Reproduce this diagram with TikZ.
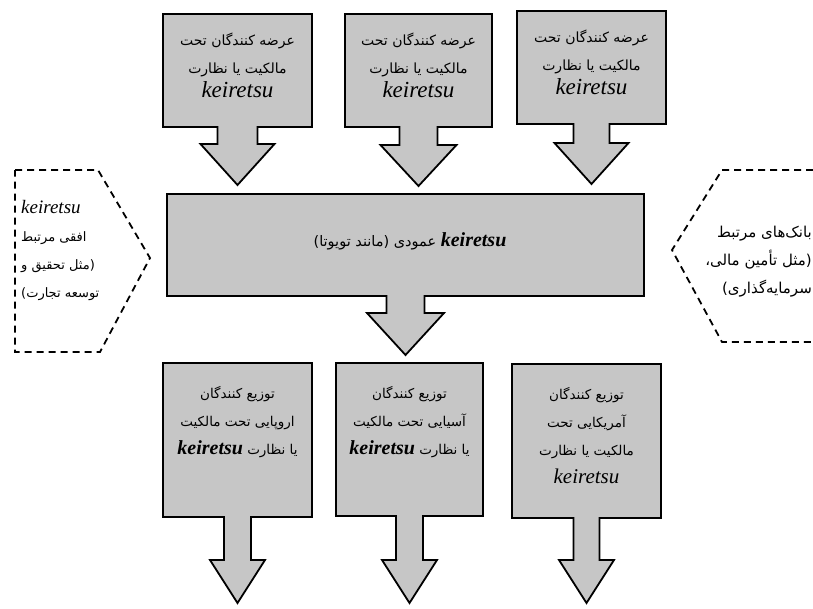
\documentclass[tikz,border=0pt]{standalone}
\usepackage{fontspec}
\setmainfont{Liberation Serif}
\newfontfamily\fa[Script=Arabic]{DejaVu Sans}
\TeXXeTstate=1

\definecolor{panelgray}{RGB}{198,198,198}

% Persian line, set right to left
\newcommand\rl[1]{{\fa\beginR #1\endR}}
% Latin term in italic / bold italic
\newcommand\keit[2]{{\rmfamily\itshape\fontsize{#1}{#1}\selectfont #2}}
\newcommand\keib[2]{{\rmfamily\bfseries\itshape\fontsize{#1}{#1}\selectfont #2}}

\tikzset{
  panel/.style={draw=none, inner sep=0pt, outer sep=0pt},
  outline/.style={draw=black, fill=panelgray, line width=1.8pt, line join=miter},
  hexline/.style={draw=black, line width=1.8pt, dash pattern=on 7pt off 5pt},
  label/.style={inner sep=0pt, align=center, font=\fontsize{#1}{28}\selectfont},
  label/.default=14,
}

% box with a block arrow hanging from its lower edge
% #1 name, #2 centre x, #3 half width, #4 top, #5 bottom,
% #6 stem half width, #7 head half width, #8 head top, #9 tip
\newcommand\dropbox[9]{%
  \node[panel, minimum width={2*#3}, minimum height={#5-#4}] (#1) at (#2,{(#4+#5)/2}) {};
  \draw[outline] (#1.north west) -- (#1.north east) -- (#1.south east)
    -- ({#2+#6},#5) -- ({#2+#6},#8) -- ({#2+#7},#8) -- (#2,#9)
    -- ({#2-#7},#8) -- ({#2-#6},#8) -- ({#2-#6},#5) -- (#1.south west) -- cycle;
}

\begin{document}
\begin{tikzpicture}[x=1pt, y=-1pt]
\useasboundingbox[fill=white] (0,0) rectangle (813,608);

% suppliers
\dropbox{sup1}{237.5}{74.5}{14}{127}{20}{37}{144}{185}
\dropbox{sup2}{418.5}{73.5}{14}{127}{19}{38}{145}{186}
\dropbox{sup3}{591.5}{74.5}{11}{124}{18}{37}{143}{184}

% vertical keiretsu
\dropbox{core}{405.5}{238.5}{194}{296}{19}{38.5}{313}{355}

% distributors
\dropbox{dis1}{237.5}{74.5}{363}{517}{13.5}{27.5}{560}{603}
\dropbox{dis2}{409.5}{73.5}{363}{516}{13.5}{27.5}{560}{603}
\dropbox{dis3}{586.5}{74.5}{364}{518}{13}{27.5}{560}{603}

% side groups
\draw[hexline] (15,170) coordinate (hl) -- (98,170) -- (150,258) coordinate (hltip)
  -- (100,352) -- (15,352) -- cycle;
\draw[hexline] (813,170) coordinate (hr) -- (722,170) -- (672,250) coordinate (hrtip)
  -- (722,342) -- (813,342);

% texts
\node[label=14] (sup1-text) at (237.5,65) {\rl{عرضه کنندگان تحت}\\ \rl{مالکیت یا نظارت}\\[-4pt] \keit{23}{keiretsu}};
\node[label=14] (sup2-text) at (418.5,65) {\rl{عرضه کنندگان تحت}\\ \rl{مالکیت یا نظارت}\\[-4pt] \keit{23}{keiretsu}};
\node[label=14] (sup3-text) at (591.5,62) {\rl{عرضه کنندگان تحت}\\ \rl{مالکیت یا نظارت}\\[-4pt] \keit{23}{keiretsu}};

\node[label=14.5] (core-text) at (410,241) {\rl{\beginL\keib{20}{keiretsu}\endL{} عمودی (مانند تویوتا)}};

\node[label=13.5] (dis1-text) at (237.5,422) {\rl{توزیع کنندگان}\\ \rl{اروپایی تحت مالکیت}\\ \rl{یا نظارت \beginL\keib{20}{keiretsu}\endL}};
\node[label=13.5] (dis2-text) at (409.5,422) {\rl{توزیع کنندگان}\\ \rl{آسیایی تحت مالکیت}\\ \rl{یا نظارت \beginL\keib{20}{keiretsu}\endL}};
\node[label=13.5] (dis3-text) at (586.5,436) {\rl{توزیع کنندگان}\\ \rl{آمریکایی تحت}\\ \rl{مالکیت یا نظارت}\\ \keit{21}{keiretsu}};

\node[label=13, align=left, anchor=west] (hl-text) at (21,250) {\keit{19}{keiretsu}\\ \rl{افقی مرتبط}\\ \rl{(مثل تحقیق و}\\ \rl{توسعه تجارت)}};
\node[label=15, align=right, anchor=east] (hr-text) at (812,262) {\rl{بانک‌های مرتبط}\\ \rl{(مثل تأمین مالی،}\\ \rl{سرمایه‌گذاری)}};
\end{tikzpicture}
\end{document}
